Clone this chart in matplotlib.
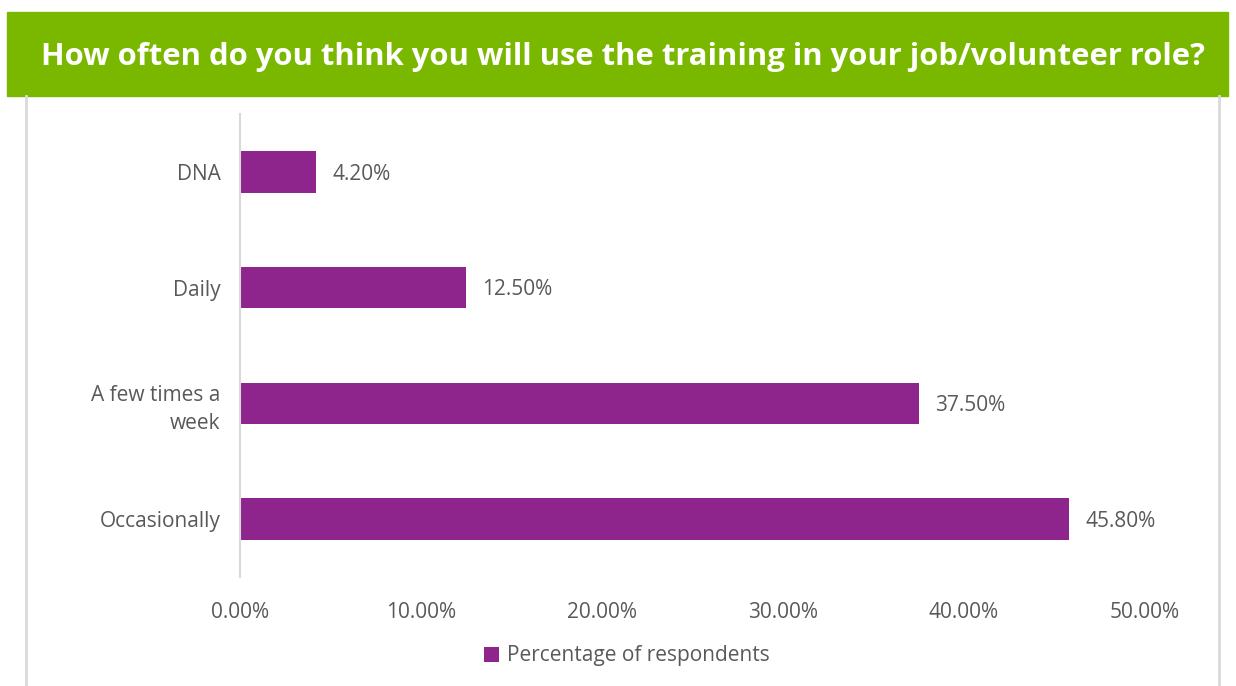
import matplotlib.pyplot as plt
from matplotlib.patches import Rectangle
from matplotlib.lines import Line2D

categories = ['Occasionally', 'A few times a\nweek', 'Daily', 'DNA']
values = [45.8, 37.5, 12.5, 4.2]
ticks = [0, 10, 20, 30, 40, 50]
title = 'How often do you think you will use the training in your job/volunteer role?'
series_name = 'Percentage of respondents'

bar_color = '#8E258D'
green = '#7AB800'
text_gray = '#595959'

plt.rcParams['font.family'] = ['Open Sans', 'DejaVu Sans']

W, H = 1236, 686
fig = plt.figure(figsize=(W / 100, H / 100), dpi=100)

# title banner and frame around the chart area
fig.patches.append(Rectangle((7 / W, 1 - 96 / H), 1221 / W, 84 / H,
                             transform=fig.transFigure, color=green, zorder=0))
fig.text(623 / W, 1 - 57 / H, title, color='white', fontsize=22.3,
         fontweight='bold', ha='center', va='center')
for x in (26, 1219):
    fig.add_artist(Line2D([x / W, x / W], [0, 1 - 96 / H],
                          color='#D9D9D9', lw=2))

ax = fig.add_axes([240 / W, 1 - 577 / H, 905 / W, 463 / H])
y = range(len(categories))
ax.barh(y, values, height=0.36, color=bar_color, label=series_name)
for yi, v in zip(y, values):
    ax.text(v + 0.9, yi - 0.02, f'{v:.2f}%', va='center', ha='left',
            fontsize=15, color=text_gray)

ax.set_xlim(0, 50)
ax.set_ylim(-0.5, len(categories) - 0.5)
ax.set_xticks(ticks)
ax.set_xticklabels([f'{t:.2f}%' for t in ticks])
ax.set_yticks(list(y))
ax.set_yticklabels(categories, linespacing=1.45)
ax.tick_params(axis='both', length=0, labelsize=15, labelcolor=text_gray)
ax.tick_params(axis='x', pad=18)
ax.tick_params(axis='y', pad=14)
for s in ['top', 'right', 'bottom']:
    ax.spines[s].set_visible(False)
ax.spines['left'].set_color('#D9D9D9')
ax.spines['left'].set_linewidth(1.5)

fig.legend(loc='center', bbox_to_anchor=(627 / W, 1 - 656 / H), frameon=False,
           fontsize=15, labelcolor=text_gray, handlelength=0.7,
           handleheight=0.7, handletextpad=0.4)

fig.savefig('out.png', dpi=100, facecolor='white')
